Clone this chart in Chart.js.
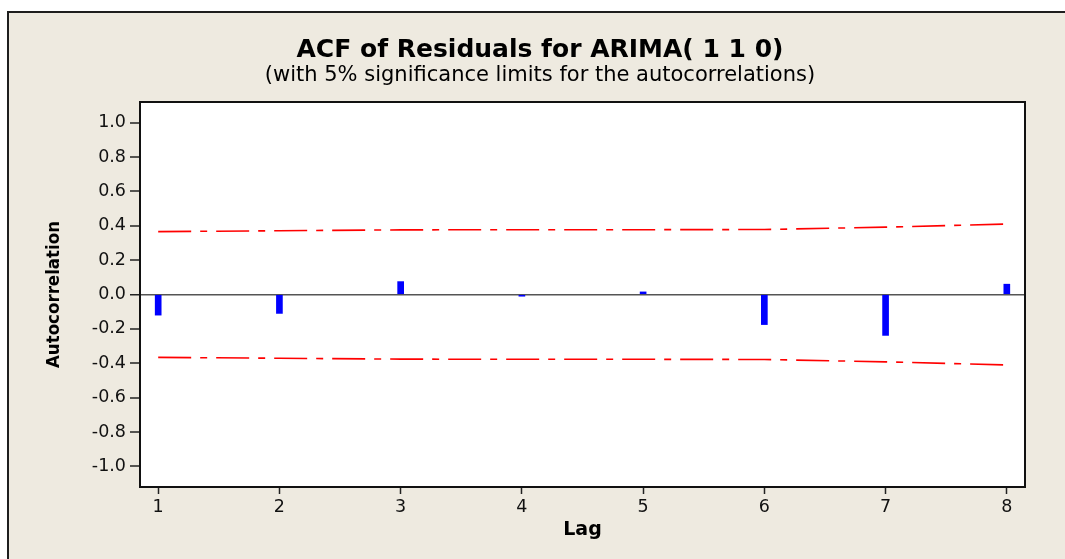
<!DOCTYPE html>
<html>
<head>
<meta charset="utf-8">
<script src="https://cdn.jsdelivr.net/npm/chart.js@4/dist/chart.umd.min.js"></script>
<style>
  html, body { margin: 0; padding: 0; background: #ffffff; }
  canvas { display: block; }
</style>
</head>
<body>
<canvas id="c" width="1065" height="559"></canvas>
<script>
// ---- data ----
const lags = [1, 2, 3, 4, 5, 6, 7, 8];
const acfValues = [-0.12, -0.11, 0.075, -0.01, 0.015, -0.175, -0.238, 0.06];
const upperLimit = [0.366, 0.371, 0.376, 0.377, 0.377, 0.378, 0.392, 0.41];
const lowerLimit = [-0.366, -0.371, -0.376, -0.377, -0.377, -0.378, -0.392, -0.41];
const yTicks = [1.0, 0.8, 0.6, 0.4, 0.2, 0.0, -0.2, -0.4, -0.6, -0.8, -1.0];
const yTickLabels = ['1.0', '0.8', '0.6', '0.4', '0.2', '0.0', '-0.2', '-0.4', '-0.6', '-0.8', '-1.0'];
const xTicks = lags;

const FONT = "'DejaVu Sans', Verdana, sans-serif";
const FONT_COND = "'DejaVu Sans Condensed', 'DejaVu Sans', sans-serif";

const backgroundPlugin = {
  id: 'panelBackground',
  beforeDraw(chart) {
    const ctx = chart.ctx;
    const w = chart.width, h = chart.height;
    ctx.save();
    ctx.fillStyle = '#ffffff';
    ctx.fillRect(0, 0, w, h);
    ctx.fillStyle = '#EEEAE0';
    ctx.fillRect(7, 11, w - 7, h - 11);
    ctx.strokeStyle = '#1e1e1e';
    ctx.lineWidth = 2;
    ctx.beginPath();
    ctx.moveTo(8, h);
    ctx.lineTo(8, 12);
    ctx.lineTo(w, 12);
    ctx.stroke();
    const a = chart.chartArea;
    ctx.fillStyle = '#ffffff';
    ctx.fillRect(a.left, a.top, a.right - a.left, a.bottom - a.top);
    ctx.restore();
  },
  afterDraw(chart) {
    const ctx = chart.ctx;
    const a = chart.chartArea;
    ctx.save();
    ctx.strokeStyle = '#111111';
    ctx.lineWidth = 2;
    ctx.strokeRect(a.left, a.top, a.right - a.left, a.bottom - a.top);
    ctx.restore();
  }
};

new Chart(document.getElementById('c'), {
  type: 'bar',
  data: {
    datasets: [
      {
        type: 'bar',
        label: 'ACF',
        data: lags.map((l, i) => ({ x: l, y: acfValues[i] })),
        backgroundColor: '#0000FF',
        borderWidth: 0,
        barThickness: 6,
        order: 1
      },
      {
        type: 'line',
        label: 'Upper limit',
        data: lags.map((l, i) => ({ x: l, y: upperLimit[i] })),
        borderColor: '#FF0000',
        borderWidth: 1.6,
        borderDash: [33, 9, 7, 9],
        pointRadius: 0,
        tension: 0,
        fill: false,
        order: 0
      },
      {
        type: 'line',
        label: 'Lower limit',
        data: lags.map((l, i) => ({ x: l, y: lowerLimit[i] })),
        borderColor: '#FF0000',
        borderWidth: 1.6,
        borderDash: [33, 9, 7, 9],
        pointRadius: 0,
        tension: 0,
        fill: false,
        order: 0
      }
    ]
  },
  options: {
    responsive: false,
    animation: false,
    devicePixelRatio: 1,
    layout: { padding: { left: 55, right: 40, top: 35, bottom: 19 } },
    plugins: {
      legend: { display: false },
      tooltip: { enabled: false },
      title: {
        display: true,
        text: 'ACF of Residuals for ARIMA( 1 1 0)',
        color: '#000000',
        font: { family: FONT, size: 25, weight: 'bold', lineHeight: 1.2 },
        padding: { top: 0, bottom: 0 }
      },
      subtitle: {
        display: true,
        text: '(with 5% significance limits for the autocorrelations)',
        color: '#000000',
        font: { family: FONT, size: 21, weight: 'normal', lineHeight: 1.0 },
        padding: { top: 0, bottom: 16 }
      }
    },
    scales: {
      x: {
        type: 'linear',
        min: 0.85,
        max: 8.15,
        offset: false,
        afterBuildTicks(scale) { scale.ticks = xTicks.map(v => ({ value: v })); },
        afterFit(scale) { scale.height = 53; },
        ticks: {
          color: '#111111',
          font: { family: FONT, size: 17.5 },
          padding: 3,
          maxRotation: 0,
          callback: (v) => String(v)
        },
        grid: {
          offset: false,
          drawOnChartArea: false,
          drawTicks: true,
          tickLength: 7,
          tickColor: '#222222',
          tickWidth: 1.5
        },
        border: { display: true, color: '#111111', width: 2 },
        title: {
          display: true,
          text: 'Lag',
          color: '#000000',
          font: { family: FONT, size: 19, weight: 'bold', lineHeight: 1.0 },
          padding: { top: 0, bottom: 0 }
        }
      },
      y: {
        type: 'linear',
        min: -1.12,
        max: 1.12,
        afterBuildTicks(scale) { scale.ticks = yTicks.map(v => ({ value: v })); },
        afterFit(scale) { scale.width = 85; },
        ticks: {
          color: '#111111',
          font: { family: FONT, size: 17.5 },
          padding: 4,
          callback: (v) => yTickLabels[yTicks.indexOf(v)]
        },
        grid: {
          drawOnChartArea: true,
          drawTicks: true,
          tickLength: 10,
          tickColor: '#222222',
          tickWidth: 1.5,
          color: (ctx) => (ctx.tick && ctx.tick.value === 0 ? '#555555' : 'rgba(0,0,0,0)'),
          lineWidth: (ctx) => (ctx.tick && ctx.tick.value === 0 ? 1.5 : 0)
        },
        border: { display: true, color: '#111111', width: 2 },
        title: {
          display: true,
          text: 'Autocorrelation',
          color: '#000000',
          font: { family: FONT_COND, size: 18.5, weight: 'bold', lineHeight: 1.0 },
          padding: { top: -10, bottom: 0 }
        }
      }
    }
  },
  plugins: [backgroundPlugin]
});
</script>
</body>
</html>
